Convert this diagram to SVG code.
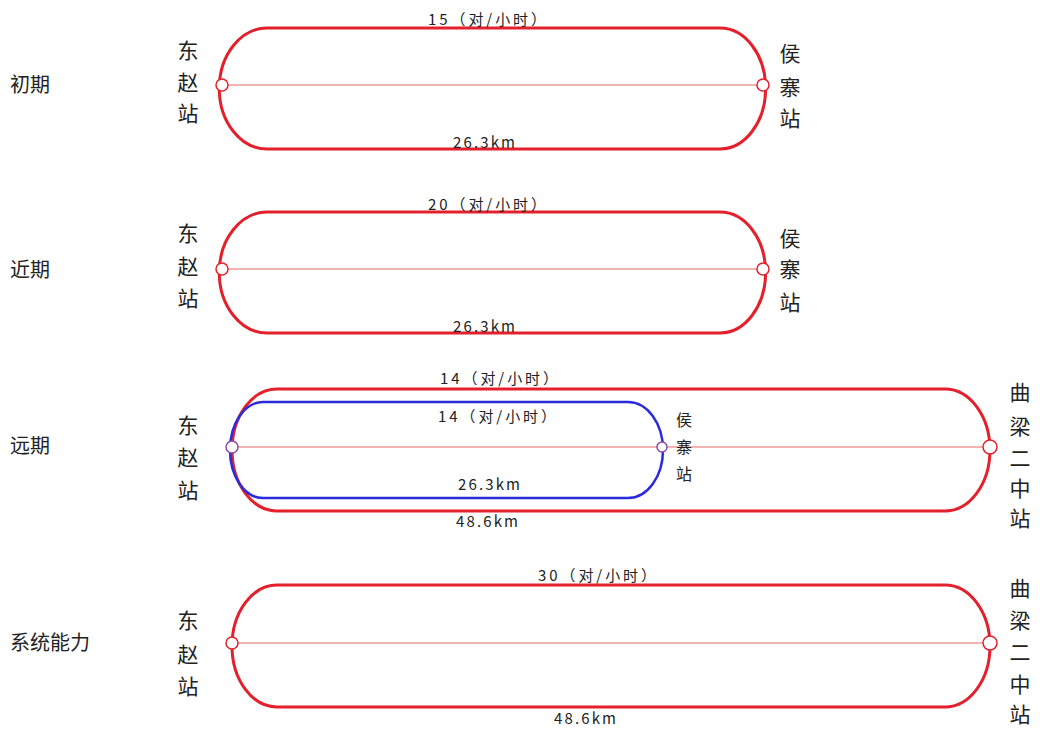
<svg xmlns="http://www.w3.org/2000/svg" width="1040" height="729" viewBox="0 0 1040 729">
<style>
.loop{fill:none;stroke:#e3202b;stroke-width:3}
.blue{fill:none;stroke:#2b2bdc;stroke-width:2.5}
.axis{stroke:#ee9a9a;stroke-width:1.5}
.st{fill:#fff;stroke:#e3202b;stroke-width:1.5}
.stb{fill:#fff;stroke:#8a4aa8;stroke-width:1.5}
.lbl{font-family:"Noto Sans CJK SC","Noto Sans",sans-serif;font-size:15px;fill:#222;text-anchor:middle}
.stn{font-family:"Noto Sans CJK SC",sans-serif;font-size:21px;fill:#222;text-anchor:middle}
.stns{font-family:"Noto Sans CJK SC",sans-serif;font-size:16px;fill:#222;text-anchor:middle}
.phase{font-family:"Noto Sans CJK SC",sans-serif;font-size:20px;fill:#222}
</style>
<rect width="1040" height="729" fill="#fff"/>

<g id="connectors">
<line class="axis" x1="222" y1="85" x2="763" y2="85"/>
<line class="axis" x1="222" y1="269" x2="763" y2="269"/>
<line class="axis" x1="232" y1="447" x2="990" y2="447"/>
<line class="axis" x1="232" y1="643" x2="990" y2="643"/>
</g>

<g id="loop1"><path class="loop" d="M267,28 H720 A43,57 0 0 1 720,149 H267 A45,57 0 0 1 267,28 Z"/></g>
<g id="loop2"><path class="loop" d="M267,212 H720 A43,57 0 0 1 720,333 H267 A45,57 0 0 1 267,212 Z"/></g>
<g id="loop3a"><path class="loop" d="M277,389 H945 A45,61 0 0 1 945,511 H277 A45,61 0 0 1 277,389 Z"/></g>
<g id="loop3b"><path class="blue" d="M263,402 H628 A35,48 0 0 1 628,498 H263 A33,48 0 0 1 263,402 Z"/></g>
<g id="loop4"><path class="loop" d="M277,585 H945 A45,61 0 0 1 945,707 H277 A45,61 0 0 1 277,585 Z"/></g>

<g id="phase-labels">
<text class="phase" x="10" y="92">初期</text>
<text class="phase" x="10" y="277">近期</text>
<text class="phase" x="10" y="453">远期</text>
<text class="phase" x="10" y="650">系统能力</text>
</g>

<g id="dongzhao1"><circle class="st" cx="222" cy="85" r="6"/>
<text class="stn" x="188" y="58">东</text><text class="stn" x="188" y="90">赵</text><text class="stn" x="188" y="121">站</text></g>
<g id="houzhai1"><circle class="st" cx="763" cy="85" r="6"/>
<text class="stn" x="790" y="61">侯</text><text class="stn" x="790" y="95">寨</text><text class="stn" x="790" y="126">站</text></g>
<text class="lbl" x="487" y="25" textLength="118" lengthAdjust="spacing">15（对/小时）</text>
<text class="lbl" x="484" y="148" textLength="62" lengthAdjust="spacing">26.3km</text>

<g id="dongzhao2"><circle class="st" cx="222" cy="269" r="6"/>
<text class="stn" x="188" y="241">东</text><text class="stn" x="188" y="274">赵</text><text class="stn" x="188" y="306">站</text></g>
<g id="houzhai2"><circle class="st" cx="763" cy="269" r="6"/>
<text class="stn" x="790" y="246">侯</text><text class="stn" x="790" y="277">寨</text><text class="stn" x="790" y="310">站</text></g>
<text class="lbl" x="487" y="210" textLength="118" lengthAdjust="spacing">20（对/小时）</text>
<text class="lbl" x="484" y="332" textLength="62" lengthAdjust="spacing">26.3km</text>

<g id="dongzhao3"><circle class="stb" cx="232" cy="447" r="6"/>
<text class="stn" x="188" y="433">东</text><text class="stn" x="188" y="465">赵</text><text class="stn" x="188" y="498">站</text></g>
<g id="houzhai3"><circle class="stb" cx="662" cy="447" r="5"/>
<text class="stns" x="684" y="426">侯</text><text class="stns" x="684" y="453">寨</text><text class="stns" x="684" y="480">站</text></g>
<g id="quliang3"><circle class="st" cx="990" cy="447" r="7"/>
<text class="stn" x="1020" y="400">曲</text><text class="stn" x="1020" y="434">梁</text><text class="stn" x="1020" y="466">二</text><text class="stn" x="1020" y="496">中</text><text class="stn" x="1020" y="526">站</text></g>
<text class="lbl" x="499" y="384" textLength="118" lengthAdjust="spacing">14（对/小时）</text>
<text class="lbl" x="497" y="422" textLength="118" lengthAdjust="spacing">14（对/小时）</text>
<text class="lbl" x="489" y="490" textLength="62" lengthAdjust="spacing">26.3km</text>
<text class="lbl" x="487" y="527" textLength="62" lengthAdjust="spacing">48.6km</text>

<g id="dongzhao4"><circle class="st" cx="232" cy="643" r="6"/>
<text class="stn" x="188" y="628">东</text><text class="stn" x="188" y="662">赵</text><text class="stn" x="188" y="694">站</text></g>
<g id="quliang4"><circle class="st" cx="990" cy="643" r="7"/>
<text class="stn" x="1020" y="596">曲</text><text class="stn" x="1020" y="628">梁</text><text class="stn" x="1020" y="660">二</text><text class="stn" x="1020" y="692">中</text><text class="stn" x="1020" y="722">站</text></g>
<text class="lbl" x="597" y="581" textLength="118" lengthAdjust="spacing">30（对/小时）</text>
<text class="lbl" x="585" y="724" textLength="62" lengthAdjust="spacing">48.6km</text>
</svg>
